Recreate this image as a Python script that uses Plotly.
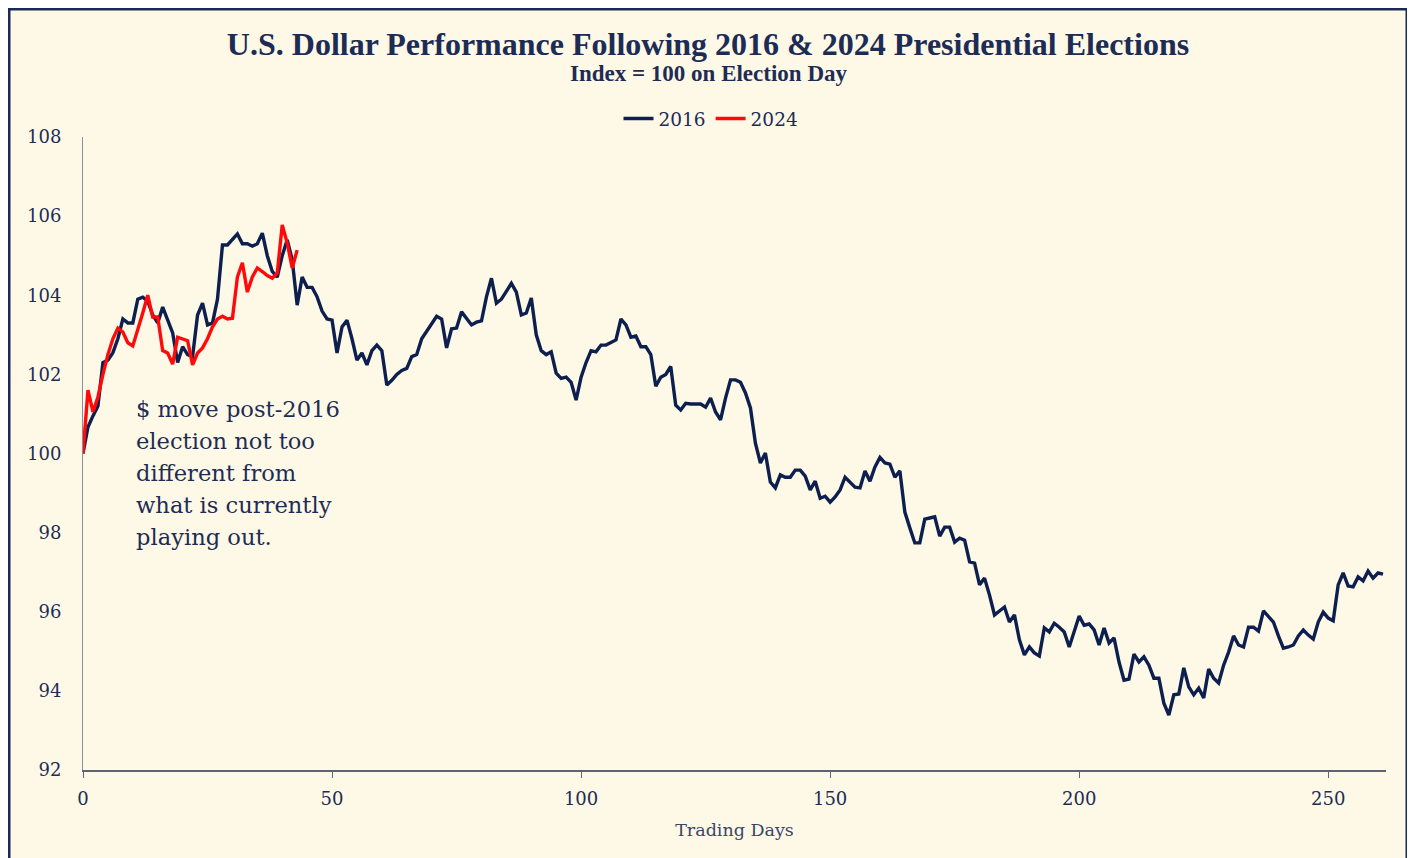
import plotly.graph_objects as go

days_2016 = list(range(262))
usd_2016 = [
    100.0, 100.67, 100.95, 101.2, 102.3, 102.36, 102.55, 102.9, 103.4, 103.3,
    103.3, 103.9, 103.95, 103.85, 103.5, 103.3, 103.7, 103.35, 103.05, 102.3,
    102.7, 102.5, 102.45, 103.5, 103.8, 103.25, 103.3, 103.9, 105.27, 105.27,
    105.4, 105.55, 105.3, 105.3, 105.24, 105.3, 105.57, 105.0, 104.6, 104.46,
    105.0, 105.4, 104.9, 103.75, 104.46, 104.2, 104.2, 103.96, 103.6, 103.4,
    103.37, 102.54, 103.2, 103.37, 102.9, 102.36, 102.54, 102.24, 102.6, 102.74,
    102.6, 101.73, 101.85, 102.0, 102.1, 102.15, 102.45, 102.5, 102.9, 103.1,
    103.3, 103.47, 103.4, 102.67, 103.15, 103.17, 103.58, 103.42, 103.25, 103.32,
    103.35, 103.96, 104.43, 103.8, 103.9, 104.1, 104.3, 104.08, 103.5, 103.55,
    103.93, 103.0, 102.6, 102.5, 102.57, 102.03, 101.9, 101.93, 101.8, 101.35,
    101.93, 102.3, 102.6, 102.57, 102.74, 102.74, 102.8, 102.87, 103.4, 103.25,
    102.94, 102.97, 102.7, 102.7, 102.5, 101.7, 101.93, 102.0, 102.2, 101.22,
    101.1, 101.27, 101.25, 101.25, 101.25, 101.17, 101.4, 101.05, 100.85, 101.4,
    101.86, 101.86, 101.8, 101.53, 101.15, 100.26, 99.76, 100.01, 99.28, 99.13,
    99.46, 99.4, 99.4, 99.58, 99.58, 99.43, 99.08, 99.3, 98.87, 98.92,
    98.77, 98.9, 99.08, 99.4, 99.28, 99.15, 99.13, 99.56, 99.3, 99.66,
    99.9, 99.76, 99.73, 99.4, 99.56, 98.52, 98.12, 97.74, 97.74, 98.34,
    98.37, 98.4, 97.91, 98.14, 98.14, 97.76, 97.86, 97.81, 97.26, 97.23,
    96.68, 96.85, 96.42, 95.92, 96.02, 96.12, 95.74, 95.92, 95.29, 94.91,
    95.11, 94.96, 94.88, 95.59, 95.49, 95.71, 95.61, 95.49, 95.11, 95.49,
    95.89, 95.66, 95.69, 95.54, 95.16, 95.59, 95.21, 95.34, 94.73, 94.27,
    94.3, 94.93, 94.73, 94.86, 94.65, 94.32, 94.32, 93.69, 93.39, 93.9,
    93.92, 94.58, 94.1, 93.9, 94.07, 93.82, 94.55, 94.32, 94.2, 94.65,
    94.98, 95.39, 95.16, 95.11, 95.61, 95.61, 95.51, 96.02, 95.87, 95.74,
    95.39, 95.08, 95.11, 95.16, 95.39, 95.54, 95.41, 95.31, 95.74, 95.99,
    95.84, 95.77, 96.68, 96.98, 96.65, 96.63, 96.88, 96.78, 97.03, 96.85,
    96.98, 96.95,
]

days_2024 = list(range(44))
usd_2024 = [
    100.0, 101.6, 101.05, 101.43, 102.0, 102.5, 102.9, 103.17, 103.07, 102.8,
    102.72, 103.12, 103.55, 104.0, 103.45, 103.45, 102.6, 102.54, 102.26, 102.94,
    102.9, 102.85, 102.24, 102.54, 102.67, 102.9, 103.2, 103.4, 103.47, 103.4,
    103.42, 104.46, 104.82, 104.08, 104.46, 104.69, 104.6, 104.5, 104.43, 104.56,
    105.78, 105.32, 104.69, 105.14,
]

y_ticks = [92, 94, 96, 98, 100, 102, 104, 106, 108]
x_ticks = [0, 50, 100, 150, 200, 250]

title_text = "U.S. Dollar Performance Following 2016 & 2024 Presidential Elections"
subtitle_text = "Index = 100 on Election Day"
note_lines = ["$ move post-2016", "election not too", "different from",
              "what is currently", "playing out."]

NAVY = "#0c1f4e"
TEXT = "#1d2c55"
BG = "#fef9e7"
SERIF = "DejaVu Serif, Liberation Serif, serif"

fig = go.Figure()
fig.add_trace(go.Scatter(x=days_2016, y=usd_2016, mode="lines", name="2016",
                         line=dict(color=NAVY, width=3.4)))
fig.add_trace(go.Scatter(x=days_2024, y=usd_2024, mode="lines", name="2024",
                         line=dict(color="#ff0a0a", width=3.4)))

OFF = 8  # page body margin
W, H = 1415 - OFF, 858 - OFF
# plot area in page pixels: x 83..1386, y 137..770
L = 83 - OFF
T = 137 - OFF
R = W - (1386 - OFF)
B = H - (770 - OFF)
pw, ph = W - L - R, H - T - B

def px_x(p):
    return (p - OFF - L) / pw

def px_y(p):
    return (H - B - (p - OFF)) / ph

annotations = [
    dict(text="<b>" + subtitle_text + "</b>", xref="paper", yref="paper",
         x=px_x(708), y=px_y(74), xanchor="center", yanchor="middle",
         showarrow=False, font=dict(family="Liberation Serif, serif", size=23, color=TEXT)),
]
line_centers = [409, 441, 473, 505, 537]
for txt, yc in zip(note_lines, line_centers):
    annotations.append(dict(text=txt, xref="paper", yref="paper",
                            x=px_x(134), y=px_y(yc), xanchor="left", yanchor="middle",
                            showarrow=False,
                            font=dict(family=SERIF, size=22.6, color=TEXT)))

fig.update_layout(
    width=W, height=H,
    margin=dict(l=L, r=R, t=T, b=B),
    paper_bgcolor=BG, plot_bgcolor=BG,
    title=dict(text="<b>" + title_text + "</b>", x=(708 - OFF) / W,
               xanchor="center", y=1 - (44 - OFF) / H, yanchor="middle",
               font=dict(family="Liberation Serif, serif", size=32, color=TEXT)),
    legend=dict(orientation="h", x=px_x(711), y=px_y(119), xanchor="center",
                yanchor="middle", font=dict(family=SERIF, size=18.5, color=TEXT),
                bgcolor="rgba(0,0,0,0)", itemwidth=30, tracegroupgap=0),
    showlegend=True,
    annotations=annotations,
    shapes=[dict(type="rect", xref="paper", yref="paper",
                 x0=px_x(9), x1=px_x(1407), y0=px_y(875), y1=px_y(9),
                 line=dict(color="#1b2a52", width=3), fillcolor="rgba(0,0,0,0)",
                 layer="below")],
)
fig.update_xaxes(range=[0, 261.6], tickvals=x_ticks, showgrid=False, zeroline=False,
                 showline=True, linecolor="#5d6478", linewidth=2,
                 ticks="outside", ticklen=6, tickcolor="#5d6478", tickwidth=1,
                 ticklabelstandoff=5,
                 tickfont=dict(family=SERIF, size=18, color=TEXT),
                 title=dict(text="Trading Days", standoff=16,
                            font=dict(family=SERIF, size=17.5, color="#3a4565")))
fig.update_yaxes(range=[92, 108], tickvals=y_ticks, showgrid=False, zeroline=False,
                 showline=True, linecolor="#8a8f9c", linewidth=1,
                 ticks="", ticklabelstandoff=17,
                 tickfont=dict(family=SERIF, size=18, color=TEXT))

fig.write_html("out.html")
